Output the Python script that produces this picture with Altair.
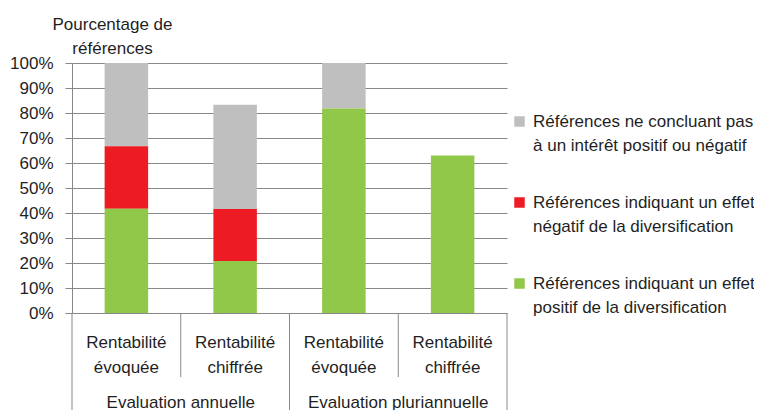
import altair as alt
import pandas as pd

# ---- data ----
cat_ids = ["A1", "A2", "B1", "B2"]
cat_labels = ["Rentabilité\névoquée", "Rentabilité\nchiffrée",
              "Rentabilité\névoquée", "Rentabilité\nchiffrée"]
group_labels = ["Evaluation annuelle", "Evaluation pluriannuelle"]
group_first_cat = ["A1", "B1"]

series_names = [
    "Références ne concluant pas\nà un intérêt positif ou négatif",
    "Références indiquant un effet\nnégatif de la diversification",
    "Références indiquant un effet\npositif de la diversification",
]
series_colors = ["#BFBFBF", "#ED1C24", "#92C84A"]
stack_order = [2, 1, 0]  # green at bottom

neutral = [33.3, 41.7, 18.2, 0.0]
negative = [25.0, 20.8, 0.0, 0.0]
positive = [41.7, 20.8, 81.8, 63.0]
series_values = [neutral, negative, positive]

y_ticks = [0, 0.1, 0.2, 0.3, 0.4, 0.5, 0.6, 0.7, 0.8, 0.9, 1.0]

FONT = "Liberation Sans, Arial, sans-serif"
FS = 17
TXT = "#1f1f1f"
GRID = "#888888"

rows = []
for name, order, vals in zip(series_names, stack_order, series_values):
    for c, v in zip(cat_ids, vals):
        rows.append({"cat": c, "serie": name, "ord": order, "val": v / 100})
df = pd.DataFrame(rows)

labels_df = pd.DataFrame({"cat": cat_ids, "label": cat_labels})
groups_df = pd.DataFrame({"cat": group_first_cat, "label": group_labels})

xscale = alt.Scale(domain=cat_ids, paddingInner=0, paddingOuter=0)

bars = alt.Chart(df).mark_bar(width=alt.RelativeBandSize(0.4)).encode(
    x=alt.X("cat:N", scale=xscale, axis=None),
    y=alt.Y("val:Q", stack="zero",
            scale=alt.Scale(domain=[0, 1]),
            axis=alt.Axis(values=y_ticks, format=".0%", grid=True,
                          gridColor=GRID, gridWidth=1,
                          domainColor=GRID, tickColor=GRID, tickSize=7,
                          labelPadding=12, labelFontSize=FS, labelFont=FONT,
                          labelColor=TXT,
                          title=["Pourcentage de", "références"],
                          titleAngle=0, titleAlign="center",
                          titleBaseline="alphabetic",
                          titleX=40, titleY=-34, titleFont=FONT,
                          titleFontSize=FS, titleFontWeight="normal",
                          titleColor=TXT, titleLineHeight=24)),
    color=alt.Color("serie:N",
                    scale=alt.Scale(domain=series_names, range=series_colors),
                    legend=alt.Legend(title=None, orient="none",
                                      legendX=439, legendY=50,
                                      symbolType="square", symbolSize=110,
                                      symbolStrokeWidth=0,
                                      labelExpr="split(datum.label, '\\n')",
                                      labelFont=FONT, labelFontSize=FS,
                                      labelColor=TXT, labelLimit=400,
                                      labelOffset=5, rowPadding=39)),
    order=alt.Order("ord:Q"),
)

long_start = alt.Chart(pd.DataFrame({"cat": ["A1", "B1"]})).mark_rule(
    color=GRID, strokeWidth=1).encode(
    x=alt.X("cat:N", scale=xscale, bandPosition=0, axis=None),
    y=alt.value(250), y2=alt.value(402),
)
long_end = alt.Chart(pd.DataFrame({"cat": ["B2"]})).mark_rule(
    color=GRID, strokeWidth=1).encode(
    x=alt.X("cat:N", scale=xscale, bandPosition=1, axis=None),
    y=alt.value(250), y2=alt.value(402),
)
short = alt.Chart(pd.DataFrame({"cat": ["A2", "B2"]})).mark_rule(
    color=GRID, strokeWidth=1).encode(
    x=alt.X("cat:N", scale=xscale, bandPosition=0, axis=None),
    y=alt.value(250), y2=alt.value(314),
)

cat_text = alt.Chart(labels_df).mark_text(
    lineBreak="\n", baseline="alphabetic", font=FONT, fontSize=FS,
    lineHeight=25, color=TXT).encode(
    x=alt.X("cat:N", scale=xscale, axis=None),
    y=alt.value(285),
    text="label:N",
)
group_text = alt.Chart(groups_df).mark_text(
    baseline="alphabetic", font=FONT, fontSize=FS, color=TXT).encode(
    x=alt.X("cat:N", scale=xscale, bandPosition=1, axis=None),
    y=alt.value(345),
    text="label:N",
)

chart = alt.layer(bars, long_start, long_end, short, cat_text, group_text).properties(
    width=435, height=250,
    autosize=alt.AutoSizeParams(type="none"),
    padding={"left": 64, "top": 55, "right": 247, "bottom": 97},
).configure(
    style={"guide-label": {"lineHeight": 24}},
    view=alt.ViewConfig(stroke=None),
)

chart.save("out.html", embed_options={"renderer": "svg", "actions": False})
